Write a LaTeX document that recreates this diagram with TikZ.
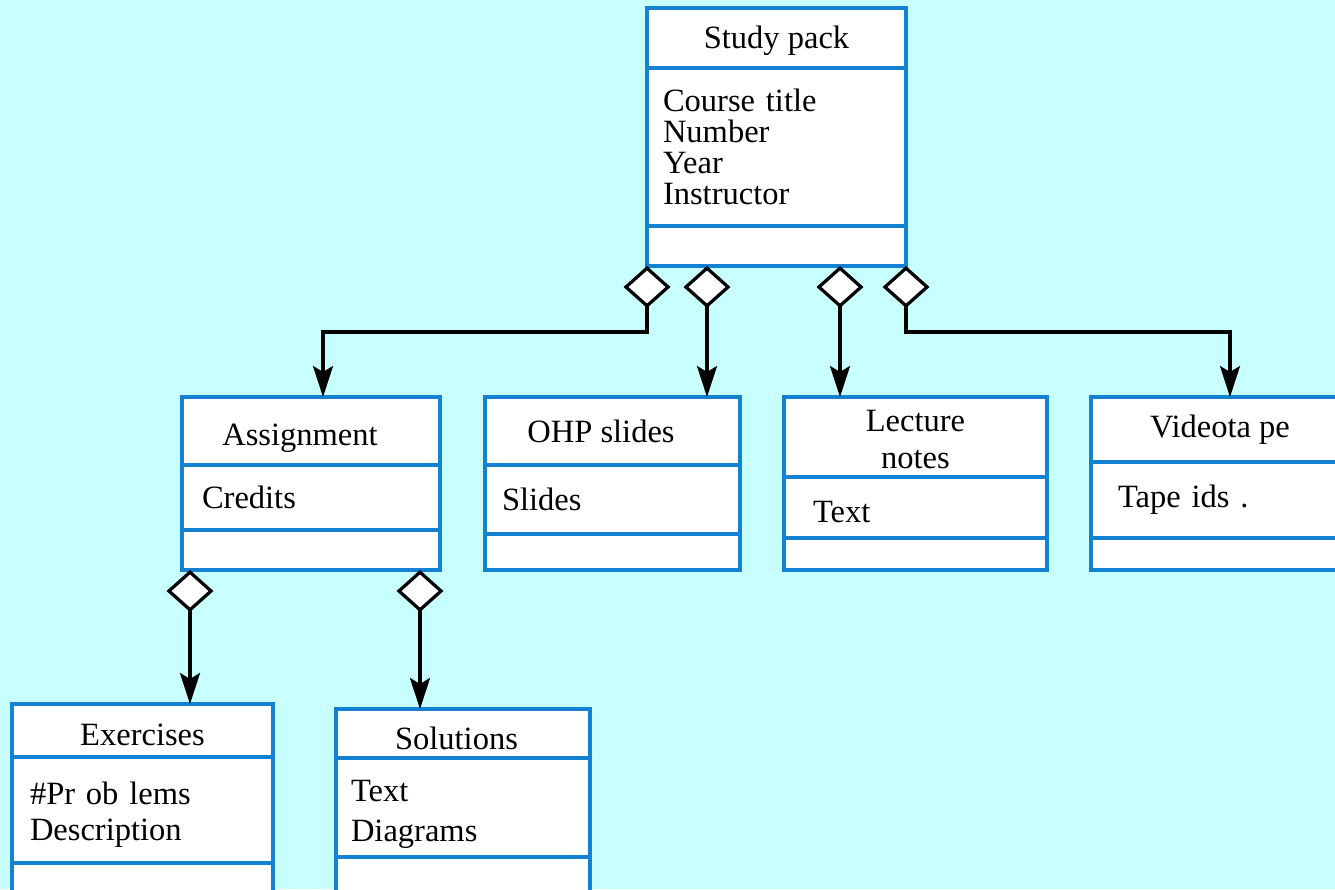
\documentclass[tikz,border=0pt]{standalone}
\usepackage{fontspec}
\setmainfont{Liberation Serif}
\usetikzlibrary{positioning, arrows.meta}
\definecolor{packbg}{RGB}{200,255,255}
\definecolor{umlblue}{RGB}{20,130,210}
\tikzstyle{classhead} = [rectangle, draw=umlblue, fill=white, line width=0.08cm, outer sep=0pt, inner sep=0pt, align=center]
\tikzstyle{classattr} = [rectangle, draw=umlblue, fill=white, line width=0.08cm, outer sep=0pt, inner ysep=0pt, align=left]
\tikzstyle{classops} = [rectangle, draw=umlblue, fill=white, line width=0.08cm, outer sep=0pt, inner sep=0pt]
\tikzstyle{aggr} = [line width=0.065cm, {Diamond[fill=white, length=0.84cm, width=0.94cm]}-{Stealth[length=0.62cm, width=0.4cm, inset=0.12cm]}]

\begin{document}
\begin{tikzpicture}[font=\fontsize{18.5}{17.6}\selectfont, node distance=0pt]
    \fill[packbg] (0,0) rectangle (26.7,-17.78);
    \useasboundingbox (0,0) rectangle (26.7,-17.78);

    % study pack
    \node (pack) [classhead, anchor=north west, minimum width=5.18cm, minimum height=1.2cm] at (12.94,-0.16) {\raisebox{-0.06cm}[\height][\depth]{Study pack}};
    \node (packattr) [classattr, below=of pack, text width=4.54cm, inner xsep=0.32cm, minimum height=3.16cm] {Course title\\Number\\Year\\Instructor};
    \node (packops) [classops, below=of packattr, minimum width=5.18cm, minimum height=0.8cm] {};

    % second row
    \node (assign) [classhead, anchor=north west, minimum width=5.16cm, minimum height=1.36cm] at (3.64,-7.94) {\hspace*{-0.44cm}\raisebox{-0.14cm}[\height][\depth]{Assignment}};
    \node (assignattr) [classattr, below=of assign, text width=4.36cm, inner xsep=0.4cm, minimum height=1.3cm] {Credits};
    \node (assignops) [classops, below=of assignattr, minimum width=5.16cm, minimum height=0.8cm] {};

    \node (ohp) [classhead, anchor=north west, minimum width=5.1cm, minimum height=1.36cm] at (9.7,-7.94) {\hspace*{-0.46cm}OHP slides};
    \node (ohpattr) [classattr, below=of ohp, text width=4.42cm, inner xsep=0.34cm, minimum height=1.38cm] {Slides};
    \node (ohpops) [classops, below=of ohpattr, minimum width=5.1cm, minimum height=0.72cm] {};

    \node (lect) [classhead, anchor=north west, minimum width=5.26cm, minimum height=1.6cm] at (15.68,-7.94) {\raisebox{-0.14cm}[\height][\depth]{\begin{tabular}{@{}c@{}}Lecture\\[0.12cm]notes\end{tabular}}};
    \node (lectattr) [classattr, below=of lect, text width=4.1cm, inner xsep=0.58cm, minimum height=1.22cm] {\raisebox{-0.1cm}[\height][\depth]{Text}};
    \node (lectops) [classops, below=of lectattr, minimum width=5.26cm, minimum height=0.64cm] {};

    \node (video) [classhead, anchor=north west, minimum width=5.16cm, minimum height=1.3cm] at (21.82,-7.94) {Videota pe};
    \node (videoattr) [classattr, below=of video, text width=4.08cm, inner xsep=0.54cm, minimum height=1.52cm] {Tape ids .};
    \node (videoops) [classops, below=of videoattr, minimum width=5.16cm, minimum height=0.64cm] {};

    % third row
    \node (exer) [classhead, anchor=north west, minimum width=5.22cm, minimum height=1.06cm] at (0.24,-14.08) {\raisebox{-0.08cm}[\height][\depth]{Exercises}};
    \node (exerattr) [classattr, below=of exer, text width=4.5cm, inner xsep=0.36cm, minimum height=2.12cm] {\raisebox{-0.12cm}[\height][\depth]{\begin{tabular}{@{}l@{}}\#Pr ob lems\\[0.1cm]Description\end{tabular}}};
    \node (exerops) [classops, below=of exerattr, minimum width=5.22cm, minimum height=0.8cm] {};

    \node (sol) [classhead, anchor=north west, minimum width=5.08cm, minimum height=0.98cm] at (6.72,-14.18) {\hspace*{-0.26cm}\raisebox{-0.1cm}[\height][\depth]{Solutions}};
    \node (solattr) [classattr, below=of sol, text width=4.48cm, inner xsep=0.3cm, minimum height=1.98cm] {\raisebox{-0.16cm}[\height][\depth]{\begin{tabular}{@{}l@{}}Text\\[0.18cm]Diagrams\end{tabular}}};
    \node (solops) [classops, below=of solattr, minimum width=5.08cm, minimum height=0.8cm] {};

    % aggregations
    \draw [aggr] (packops.south west) -- ++(0,-1.32) -| ([xshift=0.24cm]assign.north);
    \draw [aggr] ([xshift=1.2cm]packops.south west) -- ([xshift=1.2cm]packops.south west |- ohp.north);
    \draw [aggr] ([xshift=3.86cm]packops.south west) -- ([xshift=3.86cm]packops.south west |- lect.north);
    \draw [aggr] (packops.south east) -- ++(0,-1.32) -| ([xshift=0.2cm]video.north);
    \draw [aggr] ([xshift=0.16cm]assignops.south west) -- ([xshift=0.16cm]assignops.south west |- exer.north);
    \draw [aggr] ([xshift=-0.4cm]assignops.south east) -- ([xshift=-0.4cm]assignops.south east |- sol.north);
\end{tikzpicture}
\end{document}
